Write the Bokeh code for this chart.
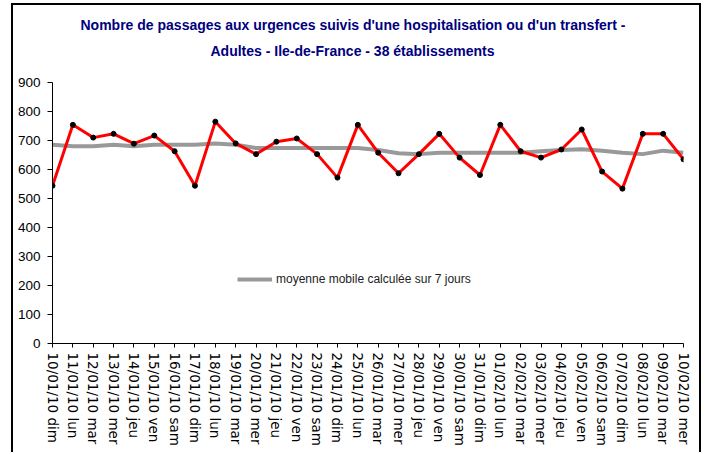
from bokeh.plotting import figure
from bokeh.models import Range1d, FixedTicker, Title, Legend, LegendItem
from bokeh.embed import file_html
from bokeh.resources import INLINE

title_lines = ["Nombre de passages aux urgences suivis d'une hospitalisation ou d'un transfert -",
               "Adultes - Ile-de-France - 38 établissements"]
dates = ["10/01/10 dim", "11/01/10 lun", "12/01/10 mar", "13/01/10 mer", "14/01/10 jeu",
         "15/01/10 ven", "16/01/10 sam", "17/01/10 dim", "18/01/10 lun", "19/01/10 mar",
         "20/01/10 mer", "21/01/10 jeu", "22/01/10 ven", "23/01/10 sam", "24/01/10 dim",
         "25/01/10 lun", "26/01/10 mar", "27/01/10 mer", "28/01/10 jeu", "29/01/10 ven",
         "30/01/10 sam", "31/01/10 dim", "01/02/10 lun", "02/02/10 mar", "03/02/10 mer",
         "04/02/10 jeu", "05/02/10 ven", "06/02/10 sam", "07/02/10 dim", "08/02/10 lun",
         "09/02/10 mar", "10/02/10 mer"]
passages = [544, 754, 710, 723, 689, 717, 663, 544, 765, 690, 653, 696, 707, 653, 572, 754,
            658, 587, 653, 723, 641, 581, 754, 663, 641, 669, 738, 593, 534, 723, 723, 635]
moyenne = [685, 680, 680, 685, 680, 685, 685, 685, 690, 685, 674, 674, 674, 674, 674, 674,
           667, 656, 653, 658, 658, 658, 658, 658, 663, 667, 670, 665, 658, 653, 665, 658]
y_ticks = [0, 100, 200, 300, 400, 500, 600, 700, 800, 900]

xs = list(range(len(dates)))

p = figure(width=690, height=449, output_backend="svg", toolbar_location=None,
           x_range=Range1d(0, len(dates) - 1), y_range=Range1d(0, 900),
           min_border_left=39, min_border_right=20, min_border_top=77, min_border_bottom=111)
p.styles = {"margin-left": "11px", "margin-top": "3px",
            "border-left": "2px solid black", "border-right": "2px solid black",
            "border-top": "2px solid black"}
p.background_fill_color = "white"
p.border_fill_color = "white"
p.outline_line_color = None
p.xgrid.visible = False
p.ygrid.visible = False

sans = "Liberation Sans"
title_style = dict(text_font=sans, text_font_size="14px", text_font_style="bold",
                   text_color="#000080", align="left")

# panels above the frame, nearest first: a blank spacer, then line 2, then line 1
p.add_layout(Title(text=" ", standoff=6, **title_style), "above")
p.add_layout(Title(text=title_lines[1], offset=158, standoff=0, **title_style), "above")
p.add_layout(Title(text=title_lines[0], offset=28, standoff=15, **title_style), "above")

gray = p.line(xs, moyenne, line_color="#999999", line_width=4)
p.line(xs, passages, line_color="#ff0000", line_width=3)
p.scatter(xs, passages, size=5, fill_color="black", line_color="black")

legend = Legend(items=[LegendItem(label="moyenne mobile calculée sur 7 jours", renderers=[gray])],
                location=(185, 54), padding=0, margin=0, border_line_color=None,
                background_fill_alpha=0, glyph_width=35, glyph_height=20, label_standoff=4,
                label_text_font=sans, label_text_font_size="12px", label_text_color="#222222")
p.add_layout(legend, "center")

xa = p.xaxis[0]
xa.ticker = FixedTicker(ticks=xs)
xa.major_label_overrides = {i: d for i, d in enumerate(dates)}
xa.major_label_orientation = "vertical"
xa.major_label_text_font = "DejaVu Sans"
xa.major_label_text_font_size = "13.5px"
xa.major_label_text_color = "black"
xa.major_tick_out = 4
xa.major_tick_in = 0
xa.minor_tick_line_color = None
xa.major_label_standoff = 5
xa.axis_line_color = "black"
xa.major_tick_line_color = "black"

ya = p.yaxis[0]
ya.ticker = FixedTicker(ticks=y_ticks)
ya.major_label_text_font = sans
ya.major_label_text_font_size = "13.5px"
ya.major_label_text_color = "black"
ya.major_tick_out = 5
ya.major_tick_in = 0
ya.minor_tick_line_color = None
ya.major_label_standoff = 7
ya.axis_line_color = "black"
ya.major_tick_line_color = "black"

open("out.html", "w").write(file_html(p, INLINE))
